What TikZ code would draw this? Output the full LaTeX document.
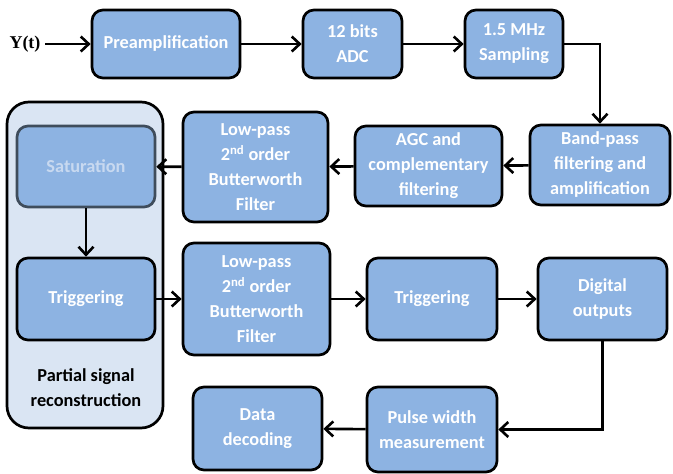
\documentclass[tikz,border=0pt]{standalone}
\usepackage{fontspec}
\setmainfont{Carlito}
\newfontfamily\serifbold{Liberation Serif}
\usetikzlibrary{positioning,arrows.meta,calc}

\definecolor{blkfill}{HTML}{8DB3E2}
\definecolor{grpfill}{HTML}{DAE5F3}
\definecolor{satline}{HTML}{3F4D5C}
\definecolor{sattext}{HTML}{C8D9F0}

\tikzset{
  blk/.style={rectangle, rounded corners=11pt, draw=black, fill=blkfill,
    line width=2.7pt, text=white, align=center, inner sep=0pt,
    font=\bfseries\fontsize{18.3}{25}\selectfont},
  grp/.style={rectangle, rounded corners=22pt, draw=black, fill=grpfill,
    line width=2.7pt, inner sep=0pt},
}

\begin{document}
\begin{tikzpicture}[x=1pt, y=-1pt, ->, >={Straight Barb[length=8pt,width=15pt]}, line width=2.6pt]
  \useasboundingbox (0,0) rectangle (673,474);
  \node (grp) [grp, minimum width=156pt, minimum height=326pt] at (85,265) {};

  \node (yt) at (25,44) {\serifbold\bfseries\fontsize{18}{20}\selectfont Y(t)};
  \node (pre) [blk, minimum width=148pt, minimum height=68pt] at (166,44) {Preamplification};
  \node (adc) [blk, minimum width=99pt, minimum height=68pt] at (352.5,44) {12 bits\\ADC};
  \node (samp) [blk, minimum width=98pt, minimum height=68pt] at (514,44) {1.5 MHz\\Sampling};
  \node (band) [blk, minimum width=140pt, minimum height=80pt] at (600,165) {Band-pass\\filtering and\\amplification};
  \node (agc) [blk, minimum width=147pt, minimum height=80pt] at (428.5,166) {AGC and\\complementary\\filtering};
  \node (lpa) [blk, minimum width=145pt, minimum height=110pt] at (255.5,167) {Low-pass\\2\textsuperscript{nd} order\\Butterworth\\Filter};
  \node (sat) [blk, draw=satline, text=sattext, minimum width=138pt, minimum height=81pt] at (86,166.5) {Saturation};
  \node (trga) [blk, minimum width=138pt, minimum height=82pt] at (86,299) {Triggering};
  \node (lpb) [blk, minimum width=147pt, minimum height=112pt] at (256.5,299) {Low-pass\\2\textsuperscript{nd} order\\Butterworth\\Filter};
  \node (trgb) [blk, minimum width=130pt, minimum height=82pt] at (432,299) {Triggering};
  \node (dig) [blk, minimum width=129pt, minimum height=82pt] at (602.5,299) {Digital\\outputs};
  \node (pulse) [blk, minimum width=130pt, minimum height=85pt] at (432,429.5) {Pulse width\\measurement};
  \node (data) [blk, minimum width=129pt, minimum height=83pt] at (257.5,428.5) {Data\\decoding};
  \node (psr) [align=center, font=\bfseries\fontsize{18.3}{25}\selectfont] at (86,388) {Partial signal\\reconstruction};

  \path (yt) edge (pre);
  \path (pre) edge (adc);
  \path (adc) edge (samp);
  \draw (samp.east) -| (band.north);
  \path (band) edge (agc);
  \path (agc) edge (lpa);
  \path (lpa) edge (sat);
  \path (sat) edge (trga);
  \path (trga) edge (lpb);
  \path (lpb) edge (trgb);
  \path (trgb) edge (dig);
  \draw (dig.south) |- (pulse.east);
  \path (pulse) edge (data);
\end{tikzpicture}
\end{document}
